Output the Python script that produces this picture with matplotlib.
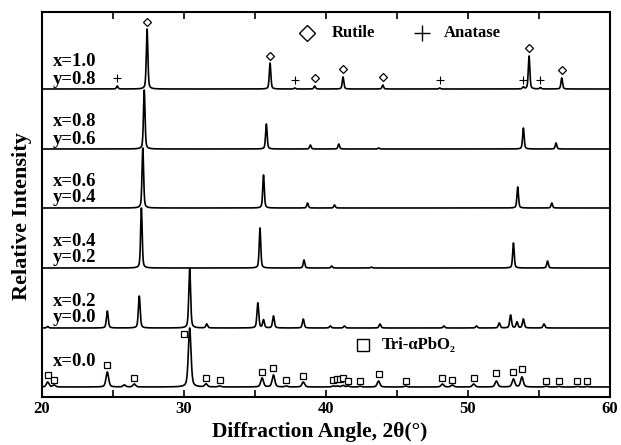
import numpy as np
import matplotlib
matplotlib.use("Agg")
import matplotlib.pyplot as plt
from matplotlib.ticker import MultipleLocator

plt.rcParams['font.family'] = ['Liberation Serif', 'DejaVu Serif']
plt.rcParams['mathtext.fontset'] = 'custom'

# ---------------- data ----------------
# stacked pattern offsets (vertical units of the plot) and labels
labels = [("x=0.0", None), ("x=0.2", "y=0.0"), ("x=0.4", "y=0.2"),
          ("x=0.6", "y=0.4"), ("x=0.8", "y=0.6"), ("x=1.0", "y=0.8")]
baselines = [10, 69, 129, 189, 248, 308]
fwhm = [0.22, 0.15, 0.13, 0.13, 0.13, 0.13]

pos0 = [20.4, 20.85, 24.6, 25.8, 26.5, 30.4, 31.55, 32.5, 35.5, 36.3, 37.2, 38.4,
        40.5, 40.8, 41.2, 41.55, 42.4, 43.7, 45.6, 48.2, 48.9, 50.4, 52.0, 53.2,
        53.8, 55.5, 56.4, 57.7, 58.4]
int0 = [5, 2, 15, 2, 3, 59, 3, 1, 9, 12, 1, 5, 1, 1, 1.5, 1, 0.8, 6, 1, 3, 2, 3,
        6, 8, 10, 0.8, 0.6, 0.6, 0.6]

pos1 = [20.4, 24.6, 26.85, 30.4, 31.6, 35.2, 35.6, 36.3, 38.4, 40.3, 41.3, 43.8,
        48.3, 50.6, 52.2, 53.0, 53.45, 53.9, 55.35]
int1 = [1.5, 17, 32, 60, 4, 25, 8, 12, 9, 2, 2, 4, 2, 2, 5, 13, 6, 9, 4]

pos2 = [27.0, 35.35, 38.45, 40.4, 43.2, 53.2, 55.6]
int2 = [60, 40, 8, 2, 1, 25, 7]

pos3 = [27.1, 35.6, 38.7, 40.6, 53.5, 55.9]
int3 = [60, 33, 5, 3, 21, 5]

pos4 = [27.2, 35.8, 38.9, 40.9, 43.7, 53.9, 56.2]
int4 = [59, 25, 4, 5, 1, 21, 6]

pos5 = [25.3, 27.4, 36.06, 37.8, 39.2, 41.2, 44.0, 48.0, 53.9, 54.3, 55.1, 56.6]
int5 = [3, 60, 26, 1, 3, 12, 4, 1, 2, 33, 1.5, 11]

patterns = [(pos0, int0), (pos1, int1), (pos2, int2), (pos3, int3), (pos4, int4), (pos5, int5)]

# phase markers (position, height above the pattern baseline)
rutile_x = [27.4, 36.06, 39.2, 41.2, 44.0, 54.3, 56.6]
rutile_y = [67, 33, 11, 20, 12, 41, 19]
anatase_x = [25.3, 37.8, 48.0, 53.9, 55.1]
anatase_y = [11, 9, 9, 9, 9]
pbo2_x = [20.4, 20.85, 24.6, 26.5, 30.0, 31.55, 32.5, 35.5, 36.3, 37.2, 38.4, 40.5,
          40.8, 41.0, 41.2, 41.55, 42.4, 43.7, 45.6, 48.2, 48.9, 50.4, 52.0, 53.2,
          53.8, 55.5, 56.4, 57.7, 58.4]
pbo2_y = [12, 7, 22, 9, 53, 9, 7, 15, 19, 7, 11, 7, 8, 8, 9, 6, 6, 13, 6, 9, 7, 9,
          14, 15, 18, 6, 6, 6, 6]

# ---------------- figure ----------------
W, H = 621, 445
fig = plt.figure(figsize=(W / 100, H / 100), dpi=100)
ax = fig.add_axes([42 / W, 1 - 397 / H, (610 - 42) / W, (397 - 12) / H])

x = np.linspace(20, 60, 8001)


def profile(xx, centers, heights, w):
    y = np.zeros_like(xx)
    g = w / 2.0
    for c, h in zip(centers, heights):
        lor = 1.0 / (1.0 + ((xx - c) / g) ** 2)
        gau = np.exp(-np.log(2) * ((xx - c) / g) ** 2)
        y += h * (0.55 * gau + 0.45 * lor)
    return y


for (p, h), b, w in zip(patterns, baselines, fwhm):
    ax.plot(x, b + profile(x, p, h, w), color='black', lw=1.2)

# labels
for (l1, l2), b in zip(labels, baselines):
    if l2 is None:
        ax.text(20.75, b + 25, l1, fontsize=13.5, fontweight='bold', va='center', ha='left')
    else:
        ax.text(20.75, b + 27, l1, fontsize=13.5, fontweight='bold', va='center', ha='left')
        ax.text(20.75, b + 10, l2, fontsize=13.5, fontweight='bold', va='center', ha='left')

top_b = baselines[-1]
bot_b = baselines[0]
ax.plot(rutile_x, np.array(rutile_y) + top_b, ls='none', marker='D', ms=4.2,
        mfc='white', mec='black', mew=0.9)
ax.plot(anatase_x, np.array(anatase_y) + top_b, ls='none', marker='+', ms=6,
        color='black', mew=0.8)
ax.plot(pbo2_x, np.array(pbo2_y) + bot_b, ls='none', marker='s', ms=5,
        mfc='white', mec='black', mew=0.9)

# legends (in-plot)
ax.plot([38.66], [364], ls='none', marker='D', ms=8, mfc='white', mec='black', mew=1.0)
ax.text(40.42, 364, "Rutile", fontsize=12, fontweight='bold', va='center', ha='left')
ax.plot([46.76], [364], ls='none', marker='+', ms=11, color='black', mew=1.0)
ax.text(48.3, 364, "Anatase", fontsize=12, fontweight='bold', va='center', ha='left')
ax.plot([42.6], [52], ls='none', marker='s', ms=8, mfc='white', mec='black', mew=1.0)
ax.text(43.94, 52, "Tri-αPbO₂", fontsize=12, fontweight='bold', va='center', ha='left')

ax.set_xlim(20, 60)
ax.set_ylim(0, 385)
ax.xaxis.set_major_locator(MultipleLocator(10))
ax.xaxis.set_minor_locator(MultipleLocator(5))
ax.tick_params(axis='x', which='both', direction='in', top=True, length=5, width=1.2, pad=3)
ax.set_yticks([])
for lab in ax.get_xticklabels():
    lab.set_fontsize(12)
    lab.set_fontweight('bold')
for s in ax.spines.values():
    s.set_linewidth(1.5)

fig.text(22 / W, 1 - 216 / H, "Relative Intensity", rotation=90, fontsize=16,
         fontweight='bold', ha='center', va='center')
fig.text(320 / W, 1 - 432 / H, "Diffraction Angle, 2θ(°)", fontsize=15.5,
         fontweight='bold', ha='center', va='center')

fig.savefig("out.png", dpi=100)
